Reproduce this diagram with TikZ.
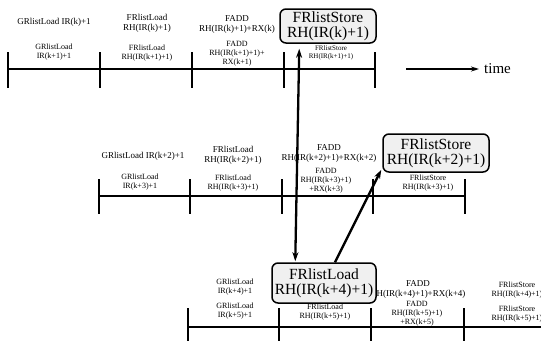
\documentclass[tikz,border=0pt]{standalone}
\usepackage{fontspec}
\setmainfont{Liberation Serif}
\usetikzlibrary{arrows.meta,calc}
\begin{document}
\begin{tikzpicture}[x=1pt,y=-1pt,
  lab/.style={align=center,inner sep=0pt,font=\fontsize{9}{10}\selectfont},
  labs/.style={align=center,inner sep=0pt,font=\fontsize{8}{8.8}\selectfont},
  tline/.style={line width=1.8pt},
  tick/.style={line width=1.5pt},
  bigbox/.style={draw,line width=1.5pt,rounded corners=6pt,fill=gray!12,align=center,
    inner sep=0pt,font=\fontsize{15.5}{15}\selectfont},
  dep/.style={line width=2.3pt,-{Stealth[length=9pt,width=6pt]}},
  dep2/.style={line width=2.3pt,{Stealth[length=9pt,width=6pt]}-{Stealth[length=9pt,width=6pt]}}]
\useasboundingbox (0,0) rectangle (541,341);

% ---- row 1 timeline
\draw[tline] (8,69) -- (375,69);
\foreach \x in {8,100,192,284,375} \draw[tick] (\x,52) -- (\x,88);
% ---- row 2 timeline
\draw[tline] (99,196) -- (465,196);
\foreach \x in {99,190,282,373,465} \draw[tick] (\x,179) -- (\x,214);
% ---- row 3 timeline
\draw[tline] (188,327) -- (541,327);
\foreach \x in {188,279,371,464} \draw[tick] (\x,308) -- (\x,341);

% ---- row 1 labels
\node[lab] (a1) at (54,22) {GRlistLoad IR(k)+1};
\node[lab] (a2) at (147,23) {FRlistLoad\\RH(IR(k)+1)};
\node[lab] (a3) at (237,24) {FADD\\RH(IR(k)+1)+RX(k)};
\node[labs] (a4) at (54,52) {GRlistLoad\\IR(k+1)+1};
\node[labs] (a5) at (147,53) {FRlistLoad\\RH(IR(k+1)+1)};
\node[labs] (a6) at (237,54) {FADD\\RH(IR(k+1)+1)+\\RX(k+1)};
\node[labs,font=\fontsize{7}{7.8}\selectfont] (a7) at (331,53) {FRlistStore\\RH(IR(k+1)+1)};

% ---- row 2 labels
\node[lab] (b1l) at (143,156) {GRlistLoad IR(k+2)+1};
\node[lab] (b2l) at (233,155) {FRlistLoad\\RH(IR(k+2)+1)};
\node[lab] (b3l) at (329,153) {FADD\\RH(IR(k+2)+1)+RX(k+2)};
\node[labs] (b4l) at (140,182) {GRlistLoad\\IR(k+3)+1};
\node[labs] (b5l) at (233,183) {FRlistLoad\\RH(IR(k+3)+1)};
\node[labs] (b6l) at (326,181) {FADD\\RH(IR(k+3)+1)\\+RX(k+3)};
\node[labs] (b7l) at (428,183) {FRlistStore\\RH(IR(k+3)+1)};

% ---- row 3 labels
\node[labs] (c1l) at (235,287) {GRlistLoad\\IR(k+4)+1};
\node[labs] (c2l) at (235,311) {GRlistLoad\\IR(k+5)+1};
\node[labs] (c3l) at (325,312) {FRlistLoad\\RH(IR(k+5)+1)};
\node[lab] (c4l) at (418,289) {FADD\\RH(IR(k+4)+1)+RX(k+4)};
\node[labs] (c5l) at (417,314) {FADD\\RH(IR(k+5)+1)\\+RX(k+5)};
\node[labs] (c6l) at (517,290) {FRlistStore\\RH(IR(k+4)+1)};
\node[labs] (c7l) at (517,314) {FRlistStore\\RH(IR(k+5)+1)};

% ---- highlighted boxes
\node[bigbox,minimum width=96pt,minimum height=34pt] (b1) at (328,26) {FRlistStore\\RH(IR(k)+1)};
\node[bigbox,minimum width=106pt,minimum height=38pt] (b2) at (436,153) {FRlistStore\\RH(IR(k+2)+1)};
\node[bigbox,minimum width=104pt,minimum height=40pt] (b3) at (324,283) {FRlistLoad\\RH(IR(k+4)+1)};

% ---- dependency arrows
\draw[dep2] ($(b1.south west)+(20,5)$) -- ($(b3.north west)+(24,-1)$);
\draw[dep] ($(b3.north)+(11,0)$) -- ($(b2.south west)+(-1,-3)$);

% ---- time arrow
\node[font=\fontsize{15}{15}\selectfont,anchor=west,inner sep=0pt] (time) at (484,69) {time};
\coordinate (ts) at (406,69);
\draw[line width=1.5pt,-{Stealth[length=8pt,width=5pt]}] (ts) -- ([xshift=-5pt]time.west);
\end{tikzpicture}
\end{document}
